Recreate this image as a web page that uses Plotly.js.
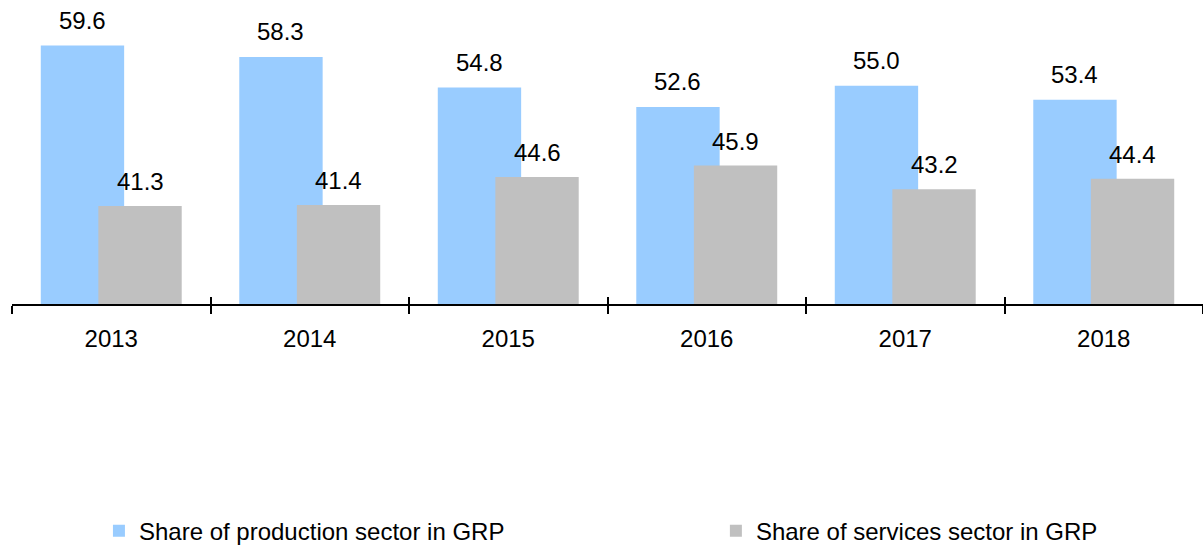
<!DOCTYPE html>
<html>
<head>
<meta charset="utf-8">
<script src="https://cdn.plot.ly/plotly-3.0.1.min.js"></script>
<style>
  html, body { margin: 0; padding: 0; background: #fff; }
  #chart { width: 1203px; height: 545px; }
</style>
</head>
<body>
<div id="chart"></div>
<script>
// Data
const years = ['2013', '2014', '2015', '2016', '2017', '2018'];
const productionShare = [59.6, 58.3, 54.8, 52.6, 55.0, 53.4];
const servicesShare = [41.3, 41.4, 44.6, 45.9, 43.2, 44.4];

const FONT = 'Liberation Sans, Arial, sans-serif';
const FS = 24;
const BAR_W = 0.42;
const BLUE_OFF = -0.355;
const GRAY_OFF = -0.065;

const production = {
    type: 'bar',
    name: 'Share of production sector in GRP',
    x: years,
    y: productionShare,
    width: BAR_W,
    offset: BLUE_OFF,
    marker: { color: '#99CCFF' },
    hoverinfo: 'skip',
    legend: 'legend'
};

const services = {
    type: 'bar',
    name: 'Share of services sector in GRP',
    x: years,
    y: servicesShare,
    xaxis: 'x2',
    width: BAR_W,
    offset: GRAY_OFF,
    marker: { color: '#C0C0C0' },
    hoverinfo: 'skip',
    legend: 'legend2'
};

// value labels above the bars
const labels = [];
years.forEach((yr, i) => {
    labels.push({
        x: i + BLUE_OFF + BAR_W / 2, y: productionShare[i], xref: 'x', yref: 'y',
        text: productionShare[i].toFixed(1), showarrow: false,
        yanchor: 'middle', yshift: 25, font: { family: FONT, size: FS, color: '#000' }
    });
    labels.push({
        x: i + GRAY_OFF + BAR_W / 2, y: servicesShare[i], xref: 'x', yref: 'y',
        text: servicesShare[i].toFixed(1), showarrow: false,
        yanchor: 'middle', yshift: 24.5, font: { family: FONT, size: FS, color: '#000' }
    });
});

const layout = {
    width: 1203,
    height: 545,
    margin: { l: 12, r: 0, t: 0, b: 241, autoexpand: false },
    paper_bgcolor: '#fff',
    plot_bgcolor: '#fff',
    font: { family: FONT, size: FS, color: '#000' },
    barmode: 'overlay',
    xaxis: {
        type: 'category',
        range: [-0.5, 5.5],
        showline: true, linecolor: '#000', linewidth: 2,
        ticks: 'outside', tickson: 'boundaries', ticklen: 8, tickwidth: 2, tickcolor: '#000',
        showgrid: false, zeroline: false,
        tickfont: { family: FONT, size: FS, color: '#000' },
        ticklabelstandoff: 12
    },
    xaxis2: {
        type: 'category',
        overlaying: 'x',
        range: [-0.5, 5.5],
        ticks: 'inside', tickson: 'boundaries', ticklen: 7, tickwidth: 2, tickcolor: '#000',
        showticklabels: false, showgrid: false, zeroline: false, showline: false
    },
    yaxis: {
        range: [30.1, 64.8],
        visible: false, showgrid: false, zeroline: false
    },
    legend: {
        orientation: 'h', x: 0.073, y: -0.747, xanchor: 'left', yanchor: 'middle',
        font: { family: FONT, size: FS, color: '#000' }, bgcolor: 'rgba(0,0,0,0)'
    },
    legend2: {
        orientation: 'h', x: 0.591, y: -0.747, xanchor: 'left', yanchor: 'middle',
        font: { family: FONT, size: FS, color: '#000' }, bgcolor: 'rgba(0,0,0,0)'
    },
    annotations: labels,
    showlegend: true
};

Plotly.newPlot('chart', [production, services], layout, { displayModeBar: false, staticPlot: true });
</script>
</body>
</html>
